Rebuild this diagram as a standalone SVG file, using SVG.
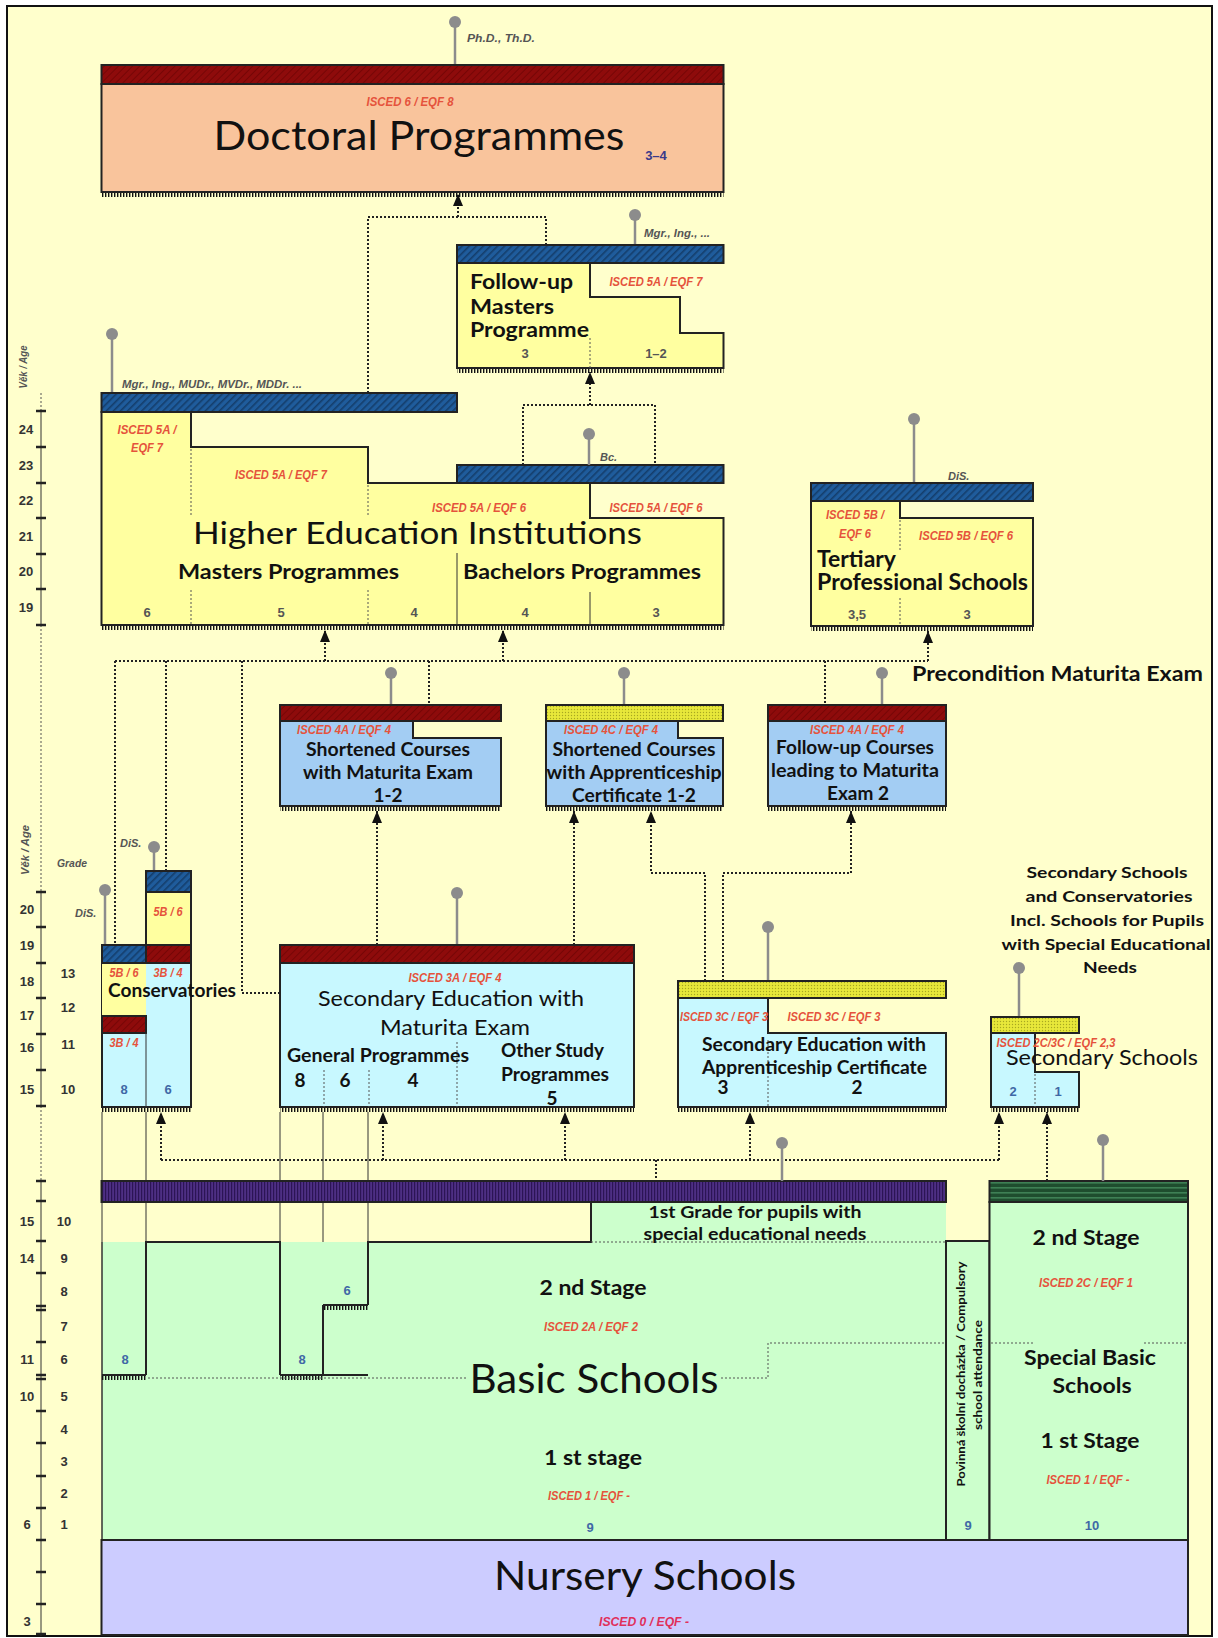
<svg xmlns="http://www.w3.org/2000/svg" width="1218" height="1638" viewBox="0 0 1218 1638">
<defs>
<pattern id="pBlue" width="5" height="5" patternUnits="userSpaceOnUse" patternTransform="rotate(45)"><rect width="5" height="5" fill="#1F5C9C"/><rect width="1.6" height="5" fill="#143E6C"/></pattern>
<pattern id="pRed" width="5" height="5" patternUnits="userSpaceOnUse" patternTransform="rotate(45)"><rect width="5" height="5" fill="#8E0B0B"/><rect width="1" height="5" fill="#760606"/></pattern>
<pattern id="pYel" width="3" height="3" patternUnits="userSpaceOnUse"><rect width="3" height="3" fill="#E8E83A"/><circle cx="1.5" cy="1.5" r="0.7" fill="#A8A820"/></pattern>
<pattern id="pPurp" width="3" height="4" patternUnits="userSpaceOnUse"><rect width="3" height="4" fill="#4E2F84"/><rect width="1.2" height="4" fill="#2C1455"/></pattern>
<pattern id="pGreen" width="4" height="5" patternUnits="userSpaceOnUse"><rect width="4" height="5" fill="#1E4D2E"/><rect y="2" width="4" height="1.6" fill="#3E8055"/></pattern>
<pattern id="pComb" width="3" height="5" patternUnits="userSpaceOnUse"><rect width="1.4" height="5" fill="#111"/></pattern>
<marker id="ar" viewBox="0 0 12 10" refX="12" refY="5" markerWidth="12" markerHeight="10" markerUnits="userSpaceOnUse" orient="auto"><path d="M0,0 L12,5 L0,10 z" fill="#111"/></marker>
<style>
.t{font-family:Lato,"Open Sans","Liberation Sans",sans-serif;fill:#111}
.b{font-weight:bold}
.c{text-anchor:middle}
.isc{font-family:"Liberation Sans Narrow","Liberation Sans",Arial,sans-serif;font-style:italic;font-weight:bold;font-size:12px;fill:#E5533C;text-anchor:middle}
.num{font-family:"Liberation Sans Narrow","Liberation Sans",Arial,sans-serif;font-weight:bold;font-size:13px;fill:#555;text-anchor:middle}
.bn{fill:#3F68A6}
.deg{font-family:"Liberation Sans Narrow","Liberation Sans",Arial,sans-serif;font-style:italic;font-weight:bold;font-size:11px;fill:#555}
.ax{font-family:"Liberation Sans Narrow","Liberation Sans",Arial,sans-serif;font-weight:bold;font-size:13px;fill:#333;text-anchor:middle}
.box{stroke:#222;stroke-width:2}
.thin{stroke:#333;stroke-width:1;fill:none}
.dot{stroke:#222;stroke-width:2;stroke-dasharray:2 2;fill:none}
.dv{stroke:#555;stroke-width:1;stroke-dasharray:2 2;fill:none}
.pin line{stroke:#8C8C8C;stroke-width:2.5}
.pin circle{fill:#8C8C8C}
.tick{stroke:#222;stroke-width:2.5}
</style>
</defs>
<rect x="7" y="6" width="1205" height="1630" fill="#FFFFCC" stroke="#111" stroke-width="2"/>

<g id="age-axis">
<line x1="41" y1="393" x2="41" y2="411" class="dv"/>
<line x1="41" y1="411" x2="41" y2="625" class="thin"/>
<line x1="41" y1="625" x2="41" y2="892" class="dv"/>
<line x1="41" y1="892" x2="41" y2="1106" class="thin"/>
<line x1="41" y1="1106" x2="41" y2="1181" class="dv"/>
<line x1="41" y1="1181" x2="41" y2="1636" class="thin"/>
<g class="tick">
<path d="M36 411h10M36 447h10M36 483h10M36 518h10M36 554h10M36 589h10M36 625h10"/>
<path d="M36 892h10M36 927h10M36 963h10M36 998h10M36 1034h10M36 1070h10M36 1106h10"/>
<path d="M36 1181h10M36 1201h10M36 1241h10M36 1273h10M36 1306h10M36 1310h10M36 1342h10M36 1375h10M36 1379h10M36 1411h10M36 1443h10M36 1476h10M36 1508h10M36 1540h10M36 1572h10M36 1604h10M36 1634h10"/>
</g>
<text class="ax" x="26" y="434">24</text><text class="ax" x="26" y="470">23</text><text class="ax" x="26" y="505">22</text><text class="ax" x="26" y="541">21</text><text class="ax" x="26" y="576">20</text><text class="ax" x="26" y="612">19</text>
<text class="ax" x="27" y="914">20</text><text class="ax" x="27" y="950">19</text><text class="ax" x="27" y="986">18</text><text class="ax" x="27" y="1020">17</text><text class="ax" x="27" y="1052">16</text><text class="ax" x="27" y="1094">15</text>
<text class="ax" x="68" y="978">13</text><text class="ax" x="68" y="1012">12</text><text class="ax" x="68" y="1049">11</text><text class="ax" x="68" y="1094">10</text>
<text class="ax" x="27" y="1226">15</text><text class="ax" x="27" y="1263">14</text><text class="ax" x="27" y="1364">11</text><text class="ax" x="27" y="1401">10</text><text class="ax" x="27" y="1529">6</text><text class="ax" x="27" y="1626">3</text>
<text class="ax" x="64" y="1226">10</text><text class="ax" x="64" y="1263">9</text><text class="ax" x="64" y="1296">8</text><text class="ax" x="64" y="1331">7</text><text class="ax" x="64" y="1364">6</text><text class="ax" x="64" y="1401">5</text><text class="ax" x="64" y="1434">4</text><text class="ax" x="64" y="1466">3</text><text class="ax" x="64" y="1498">2</text><text class="ax" x="64" y="1529">1</text>
<text class="deg" transform="translate(27 367) rotate(-90)" text-anchor="middle" textLength="43" lengthAdjust="spacingAndGlyphs">Věk / Age</text>
<text class="deg" transform="translate(29 850) rotate(-90)" text-anchor="middle" textLength="50" lengthAdjust="spacingAndGlyphs">Věk / Age</text>
<text class="deg" x="57" y="867" textLength="30" lengthAdjust="spacingAndGlyphs">Grade</text>
</g>

<g id="connectors">
<polyline class="dot" points="368,393 368,217 546,217 546,245"/>
<line class="dot" x1="458" y1="217" x2="458" y2="194" marker-end="url(#ar)"/>
<line class="dot" x1="590" y1="405" x2="590" y2="372" marker-end="url(#ar)"/>
<polyline class="dot" points="523,465 523,405 655,405 655,465"/>
<line class="dot" x1="115" y1="661" x2="928" y2="661"/>
<line class="dot" x1="325" y1="661" x2="325" y2="630" marker-end="url(#ar)"/>
<line class="dot" x1="503" y1="661" x2="503" y2="630" marker-end="url(#ar)"/>
<line class="dot" x1="928" y1="661" x2="928" y2="631" marker-end="url(#ar)"/>
<line class="dot" x1="115" y1="661" x2="115" y2="945"/>
<line class="dot" x1="166" y1="661" x2="166" y2="871"/>
<polyline class="dot" points="242,661 242,993 279,993"/>
<line class="dot" x1="429" y1="661" x2="429" y2="705"/>
<line class="dot" x1="825" y1="661" x2="825" y2="705"/>
<line class="dot" x1="377" y1="945" x2="377" y2="811" marker-end="url(#ar)"/>
<line class="dot" x1="574" y1="945" x2="574" y2="811" marker-end="url(#ar)"/>
<polyline class="dot" points="705,981 705,873 651,873 651,811" marker-end="url(#ar)"/>
<polyline class="dot" points="723,981 723,873 851,873 851,811" marker-end="url(#ar)"/>
<line class="dot" x1="161" y1="1160" x2="999" y2="1160"/>
<line class="dot" x1="161" y1="1160" x2="161" y2="1112" marker-end="url(#ar)"/>
<line class="dot" x1="383" y1="1160" x2="383" y2="1112" marker-end="url(#ar)"/>
<line class="dot" x1="565" y1="1160" x2="565" y2="1112" marker-end="url(#ar)"/>
<line class="dot" x1="750" y1="1160" x2="750" y2="1112" marker-end="url(#ar)"/>
<line class="dot" x1="999" y1="1160" x2="999" y2="1112" marker-end="url(#ar)"/>
<line class="dot" x1="656" y1="1160" x2="656" y2="1181"/>
<line class="dot" x1="1047" y1="1181" x2="1047" y2="1112" marker-end="url(#ar)"/>
<line class="dot" x1="117" y1="1443" x2="117" y2="1381" marker-end="url(#ar)"/>
<line class="dot" x1="291" y1="1448" x2="291" y2="1381" marker-end="url(#ar)"/>
<line class="dot" x1="339" y1="1375" x2="339" y2="1311" marker-end="url(#ar)"/>
<g class="thin"><path d="M102 1112V1242M146 1112V1242M280 1112V1242M323 1112V1305M368 1112V1242"/></g>
</g>

<g id="doctoral">
<g class="pin"><line x1="455" y1="22" x2="455" y2="65"/><circle cx="455" cy="22" r="6"/></g>
<text class="deg" x="467" y="42" textLength="68" lengthAdjust="spacingAndGlyphs">Ph.D., Th.D.</text>
<rect x="101.5" y="84" width="622" height="108" fill="#F9C49C" class="box"/>
<rect x="101.5" y="65" width="622" height="19" fill="url(#pRed)" class="box"/>
<rect x="101.5" y="193" width="622" height="4" fill="url(#pComb)"/>
<text class="isc" x="410" y="106" textLength="87" lengthAdjust="spacingAndGlyphs">ISCED 6 / EQF 8</text>
<text class="t c" x="419" y="150" font-size="40" textLength="411" lengthAdjust="spacingAndGlyphs">Doctoral Programmes</text>
<text class="num" x="656" y="160" font-size="11" style="fill:#3A3A8A">3–4</text>
</g>

<g id="followup-masters">
<g class="pin"><line x1="635" y1="215" x2="635" y2="245"/><circle cx="635" cy="215" r="6"/></g>
<text class="deg" x="644" y="237" textLength="66" lengthAdjust="spacingAndGlyphs">Mgr., Ing., ...</text>
<polygon points="457,263 590,263 590,297 680,297 680,333 723.5,333 723.5,368 457,368" fill="#FFFFA0" class="box"/>
<rect x="457" y="245" width="266.5" height="18" fill="url(#pBlue)" class="box"/>
<rect x="457" y="369" width="266.5" height="4" fill="url(#pComb)"/>
<line class="dv" x1="590" y1="338" x2="590" y2="368"/>
<text class="isc" x="656" y="286" textLength="93" lengthAdjust="spacingAndGlyphs">ISCED 5A / EQF 7</text>
<text class="t b" x="470" y="289" font-size="21" textLength="103" lengthAdjust="spacingAndGlyphs">Follow-up</text>
<text class="t b" x="470" y="314" font-size="21" textLength="84" lengthAdjust="spacingAndGlyphs">Masters</text>
<text class="t b" x="470" y="337" font-size="21" textLength="119" lengthAdjust="spacingAndGlyphs">Programme</text>
<text class="num" x="525" y="358">3</text><text class="num" x="656" y="358">1–2</text>
</g>

<g id="higher-education">
<g class="pin"><line x1="112" y1="334" x2="112" y2="393"/><circle cx="112" cy="334" r="6"/></g>
<text class="deg" x="122" y="388" textLength="180" lengthAdjust="spacingAndGlyphs">Mgr., Ing., MUDr., MVDr., MDDr. ...</text>
<polygon points="101.5,412 191,412 191,447 368,447 368,483 590,483 590,518 723.5,518 723.5,625 101.5,625" fill="#FFFFA0" class="box"/>
<rect x="101.5" y="393" width="355.5" height="19" fill="url(#pBlue)" class="box"/>
<rect x="457" y="465" width="266.5" height="18" fill="url(#pBlue)" class="box"/>
<g class="pin"><line x1="589" y1="434" x2="589" y2="465"/><circle cx="589" cy="434" r="6"/></g>
<text class="deg" x="600" y="461">Bc.</text>
<rect x="101.5" y="626" width="622" height="4" fill="url(#pComb)"/>
<path class="dv" d="M191 449V517M191 590V625M368 485V517M368 590V625"/>
<path class="thin" d="M457 553V625M590 592V625"/>
<text class="isc" x="147" y="434" textLength="59" lengthAdjust="spacingAndGlyphs">ISCED 5A /</text>
<text class="isc" x="147" y="452" textLength="32" lengthAdjust="spacingAndGlyphs">EQF 7</text>
<text class="isc" x="281" y="479" textLength="92" lengthAdjust="spacingAndGlyphs">ISCED 5A / EQF 7</text>
<text class="isc" x="479" y="512" textLength="94" lengthAdjust="spacingAndGlyphs">ISCED 5A / EQF 6</text>
<text class="isc" x="656" y="512" textLength="93" lengthAdjust="spacingAndGlyphs">ISCED 5A / EQF 6</text>
<text class="t" x="193" y="544" font-size="30" textLength="449" lengthAdjust="spacingAndGlyphs">Higher Education Institutions</text>
<text class="t b" x="178" y="579" font-size="21" textLength="221" lengthAdjust="spacingAndGlyphs">Masters Programmes</text>
<text class="t b" x="463" y="579" font-size="21" textLength="238" lengthAdjust="spacingAndGlyphs">Bachelors Programmes</text>
<text class="num" x="147" y="617">6</text><text class="num" x="281" y="617">5</text><text class="num" x="414" y="617">4</text><text class="num" x="525" y="617">4</text><text class="num" x="656" y="617">3</text>
</g>

<g id="tertiary">
<g class="pin"><line x1="914" y1="419" x2="914" y2="483"/><circle cx="914" cy="419" r="6"/></g>
<text class="deg" x="948" y="480">DiS.</text>
<polygon points="811,501 900,501 900,518 1033,518 1033,626 811,626" fill="#FFFFA0" class="box"/>
<rect x="811" y="483" width="222" height="18" fill="url(#pBlue)" class="box"/>
<rect x="811" y="627" width="222" height="4" fill="url(#pComb)"/>
<path class="dv" d="M900 520V550M900 598V626"/>
<text class="isc" x="855" y="519" textLength="58" lengthAdjust="spacingAndGlyphs">ISCED 5B /</text>
<text class="isc" x="855" y="538" textLength="32" lengthAdjust="spacingAndGlyphs">EQF 6</text>
<text class="isc" x="966" y="540" textLength="94" lengthAdjust="spacingAndGlyphs">ISCED 5B / EQF 6</text>
<text class="t b" x="817" y="567" font-size="23" textLength="79" lengthAdjust="spacingAndGlyphs">Tertiary</text>
<text class="t b" x="817" y="590" font-size="23" textLength="211" lengthAdjust="spacingAndGlyphs">Professional Schools</text>
<text class="num" x="857" y="619">3,5</text><text class="num" x="967" y="619">3</text>
</g>

<text id="precondition" class="t b" x="912" y="681" font-size="21" textLength="291" lengthAdjust="spacingAndGlyphs">Precondition Maturita Exam</text>

<g id="shortened-maturita">
<g class="pin"><line x1="391" y1="673" x2="391" y2="705"/><circle cx="391" cy="673" r="6"/></g>
<polygon points="280,721 413,721 413,738 501,738 501,806 280,806" fill="#A3CDF3" class="box"/>
<rect x="280" y="705" width="221" height="16" fill="url(#pRed)" class="box"/>
<rect x="280" y="807" width="221" height="4" fill="url(#pComb)"/>
<text class="isc" x="344" y="734" textLength="94" lengthAdjust="spacingAndGlyphs">ISCED 4A / EQF 4</text>
<text class="t b c" x="388" y="756" font-size="19" textLength="164" lengthAdjust="spacingAndGlyphs">Shortened Courses</text>
<text class="t b c" x="388" y="779" font-size="19" textLength="170" lengthAdjust="spacingAndGlyphs">with Maturita Exam</text>
<text class="t b c" x="388" y="802" font-size="19">1-2</text>
</g>

<g id="shortened-apprenticeship">
<g class="pin"><line x1="624" y1="673" x2="624" y2="705"/><circle cx="624" cy="673" r="6"/></g>
<polygon points="546,721 678,721 678,738 723,738 723,806 546,806" fill="#A3CDF3" class="box"/>
<rect x="546" y="705" width="177" height="16" fill="url(#pYel)" class="box"/>
<rect x="546" y="807" width="177" height="4" fill="url(#pComb)"/>
<text class="isc" x="611" y="734" textLength="94" lengthAdjust="spacingAndGlyphs">ISCED 4C / EQF 4</text>
<text class="t b c" x="634" y="756" font-size="19" textLength="163" lengthAdjust="spacingAndGlyphs">Shortened Courses</text>
<text class="t b c" x="634" y="779" font-size="19" textLength="175" lengthAdjust="spacingAndGlyphs">with Apprenticeship</text>
<text class="t b c" x="634" y="802" font-size="19" textLength="124" lengthAdjust="spacingAndGlyphs">Certificate 1-2</text>
</g>

<g id="followup-courses">
<g class="pin"><line x1="882" y1="673" x2="882" y2="705"/><circle cx="882" cy="673" r="6"/></g>
<rect x="768" y="721" width="178" height="85" fill="#A3CDF3" class="box"/>
<rect x="768" y="705" width="178" height="16" fill="url(#pRed)" class="box"/>
<rect x="768" y="807" width="178" height="4" fill="url(#pComb)"/>
<text class="isc" x="857" y="734" textLength="94" lengthAdjust="spacingAndGlyphs">ISCED 4A / EQF 4</text>
<text class="t b c" x="855" y="754" font-size="19" textLength="158" lengthAdjust="spacingAndGlyphs">Follow-up Courses</text>
<text class="t b c" x="855" y="777" font-size="19" textLength="168" lengthAdjust="spacingAndGlyphs">leading to Maturita</text>
<text class="t b c" x="858" y="800" font-size="19" textLength="62" lengthAdjust="spacingAndGlyphs">Exam 2</text>
</g>

<g id="conservatories">
<g class="pin"><line x1="105" y1="890" x2="105" y2="945"/><circle cx="105" cy="890" r="6"/></g>
<g class="pin"><line x1="154" y1="847" x2="154" y2="871"/><circle cx="154" cy="847" r="6"/></g>
<text class="deg" x="75" y="917">DiS.</text>
<text class="deg" x="120" y="847">DiS.</text>
<rect x="102" y="963" width="89" height="144" fill="#C8F8FF" class="box"/>
<rect x="102" y="963" width="44" height="53" fill="#FFFFA0"/>
<rect x="102" y="1016" width="44" height="17" fill="url(#pRed)" class="box"/>
<rect x="146" y="892" width="45" height="53" fill="#FFFFA0" class="box"/>
<rect x="146" y="871" width="45" height="21" fill="url(#pBlue)" class="box"/>
<rect x="146" y="945" width="45" height="18" fill="url(#pRed)" class="box"/>
<rect x="102" y="945" width="44" height="18" fill="url(#pBlue)" class="box"/>
<line class="thin" x1="146" y1="1033" x2="146" y2="1107"/>
<rect x="102" y="1108" width="89" height="4" fill="url(#pComb)"/>
<text class="isc" x="124" y="977" textLength="29" lengthAdjust="spacingAndGlyphs">5B / 6</text>
<text class="isc" x="168" y="977" textLength="29" lengthAdjust="spacingAndGlyphs">3B / 4</text>
<text class="isc" x="168" y="916" textLength="29" lengthAdjust="spacingAndGlyphs">5B / 6</text>
<text class="isc" x="124" y="1047" textLength="29" lengthAdjust="spacingAndGlyphs">3B / 4</text>
<text class="num bn" x="124" y="1094">8</text><text class="num bn" x="168" y="1094">6</text>
<text class="t b" x="108" y="997" font-size="19" textLength="128" lengthAdjust="spacingAndGlyphs">Conservatories</text>
</g>

<g id="secondary-maturita">
<g class="pin"><line x1="457" y1="893" x2="457" y2="945"/><circle cx="457" cy="893" r="6"/></g>
<rect x="280" y="963" width="354" height="144" fill="#C8F8FF" class="box"/>
<rect x="280" y="945" width="354" height="18" fill="url(#pRed)" class="box"/>
<rect x="280" y="1108" width="354" height="4" fill="url(#pComb)"/>
<path class="dv" d="M324 1070V1107M369 1070V1107M457 1042V1107"/>
<text class="isc" x="455" y="982" textLength="93" lengthAdjust="spacingAndGlyphs">ISCED 3A / EQF 4</text>
<text class="t c" x="451" y="1006" font-size="22" textLength="266" lengthAdjust="spacingAndGlyphs">Secondary Education with</text>
<text class="t c" x="455" y="1035" font-size="22" textLength="150" lengthAdjust="spacingAndGlyphs">Maturita Exam</text>
<text class="t b" x="287" y="1062" font-size="18" textLength="182" lengthAdjust="spacingAndGlyphs">General Programmes</text>
<text class="t b" x="501" y="1057" font-size="18" textLength="103" lengthAdjust="spacingAndGlyphs">Other Study</text>
<text class="t b" x="501" y="1081" font-size="18" textLength="108" lengthAdjust="spacingAndGlyphs">Programmes</text>
<text class="t b c" x="300" y="1087" font-size="19">8</text><text class="t b c" x="345" y="1087" font-size="19">6</text><text class="t b c" x="413" y="1087" font-size="19">4</text><text class="t b c" x="552" y="1105" font-size="19">5</text>
</g>

<g id="secondary-apprenticeship">
<g class="pin"><line x1="768" y1="927" x2="768" y2="981"/><circle cx="768" cy="927" r="6"/></g>
<polygon points="678,998 768,998 768,1033 946,1033 946,1107 678,1107" fill="#C8F8FF" class="box"/>
<rect x="678" y="981" width="268" height="17" fill="url(#pYel)" class="box"/>
<rect x="678" y="1108" width="268" height="4" fill="url(#pComb)"/>
<line class="dv" x1="768" y1="1040" x2="768" y2="1107"/>
<text class="isc" x="724" y="1021" textLength="88" lengthAdjust="spacingAndGlyphs">ISCED 3C / EQF 3</text>
<text class="isc" x="834" y="1021" textLength="93" lengthAdjust="spacingAndGlyphs">ISCED 3C / EQF 3</text>
<text class="t b" x="702" y="1051" font-size="19" textLength="224" lengthAdjust="spacingAndGlyphs">Secondary Education with</text>
<text class="t b" x="702" y="1074" font-size="19" textLength="225" lengthAdjust="spacingAndGlyphs">Apprenticeship Certificate</text>
<text class="t b c" x="723" y="1094" font-size="19">3</text><text class="t b c" x="857" y="1094" font-size="19">2</text>
</g>

<g id="secondary-schools">
<text class="t b c" x="1107" y="878" font-size="16" textLength="161" lengthAdjust="spacingAndGlyphs">Secondary Schools</text>
<text class="t b c" x="1109" y="902" font-size="16" textLength="167" lengthAdjust="spacingAndGlyphs">and Conservatories</text>
<text class="t b c" x="1107" y="926" font-size="16" textLength="194" lengthAdjust="spacingAndGlyphs">Incl. Schools for Pupils</text>
<text class="t b c" x="1106" y="950" font-size="16" textLength="209" lengthAdjust="spacingAndGlyphs">with Special Educational</text>
<text class="t b c" x="1110" y="973" font-size="16" textLength="54" lengthAdjust="spacingAndGlyphs">Needs</text>
<g class="pin"><line x1="1019" y1="968" x2="1019" y2="1017"/><circle cx="1019" cy="968" r="6"/></g>
<polygon points="991,1033 1035,1033 1035,1072 1079,1072 1079,1107 991,1107" fill="#C8F8FF" class="box"/>
<rect x="991" y="1017" width="88" height="16" fill="url(#pYel)" class="box"/>
<rect x="991" y="1108" width="88" height="4" fill="url(#pComb)"/>
<line class="dv" x1="1035" y1="1074" x2="1035" y2="1107"/>
<text class="isc" x="1056" y="1047" textLength="119" lengthAdjust="spacingAndGlyphs">ISCED 2C/3C / EQF 2,3</text>
<text class="t" x="1006" y="1065" font-size="21" textLength="192" lengthAdjust="spacingAndGlyphs">Secondary Schools</text>
<text class="num bn" x="1013" y="1096">2</text><text class="num bn" x="1058" y="1096">1</text>
</g>

<g id="basic-schools">
<polygon points="102,1242 591,1242 591,1202 946,1202 946,1540 102,1540" fill="#CCFFCC"/>
<line x1="102" y1="1242" x2="102" y2="1540" stroke="#333" stroke-width="1.5"/>
<path d="M146 1375V1242H280V1375M323 1375V1305M368 1305V1242H591V1202" fill="none" class="box"/>
<path d="M102 1375H146M280 1375H368M323 1305H368" fill="none" class="box"/>
<rect x="102" y="1376" width="44" height="4" fill="url(#pComb)"/>
<rect x="280" y="1376" width="43" height="4" fill="url(#pComb)"/>
<rect x="323" y="1306" width="45" height="4" fill="url(#pComb)"/>
<path class="dv" d="M148 1378H468M721 1378H768V1343H946M591 1242H946"/>
<rect x="101.5" y="1181" width="844.5" height="21" fill="url(#pPurp)" class="box"/>
<g class="pin"><line x1="782" y1="1143" x2="782" y2="1181"/><circle cx="782" cy="1143" r="6"/></g>
<text class="num bn" x="125" y="1364">8</text><text class="num bn" x="302" y="1364">8</text><text class="num bn" x="347" y="1295">6</text>
<text class="t b c" x="755" y="1218" font-size="17" textLength="213" lengthAdjust="spacingAndGlyphs">1st Grade for pupils with</text>
<text class="t b c" x="755" y="1240" font-size="17" textLength="223" lengthAdjust="spacingAndGlyphs">special educational needs</text>
<text class="t b c" x="593" y="1295" font-size="21" textLength="107" lengthAdjust="spacingAndGlyphs">2 nd Stage</text>
<text class="isc" x="591" y="1331" textLength="94" lengthAdjust="spacingAndGlyphs">ISCED 2A / EQF 2</text>
<text class="t c" x="594" y="1393" font-size="40" textLength="249" lengthAdjust="spacingAndGlyphs">Basic Schools</text>
<text class="t b c" x="593" y="1465" font-size="21" textLength="98" lengthAdjust="spacingAndGlyphs">1 st stage</text>
<text class="isc" x="589" y="1500" textLength="82" lengthAdjust="spacingAndGlyphs">ISCED 1 / EQF -</text>
<text class="num bn" x="590" y="1532">9</text>
</g>

<g id="compulsory">
<rect x="946" y="1241" width="43.5" height="299" fill="#CCFFCC" class="box"/>
<text class="t b c" font-size="12" transform="translate(965 1374) rotate(-90)" textLength="225" lengthAdjust="spacingAndGlyphs">Povinná školní docházka / Compulsory</text>
<text class="t b c" font-size="12" transform="translate(982 1375) rotate(-90)" textLength="110" lengthAdjust="spacingAndGlyphs">school attendance</text>
<text class="num bn" x="968" y="1530">9</text>
</g>

<g id="special-basic">
<rect x="989.5" y="1202" width="198.5" height="338" fill="#CCFFCC" class="box"/>
<rect x="989.5" y="1181" width="198.5" height="21" fill="url(#pGreen)" class="box"/>
<g class="pin"><line x1="1103" y1="1140" x2="1103" y2="1181"/><circle cx="1103" cy="1140" r="6"/></g>
<path class="dv" d="M991 1343H1035M1144 1343H1188"/>
<text class="t b c" x="1086" y="1245" font-size="21" textLength="107" lengthAdjust="spacingAndGlyphs">2 nd Stage</text>
<text class="isc" x="1086" y="1287" textLength="94" lengthAdjust="spacingAndGlyphs">ISCED 2C / EQF 1</text>
<text class="t b c" x="1090" y="1365" font-size="21" textLength="132" lengthAdjust="spacingAndGlyphs">Special Basic</text>
<text class="t b c" x="1092" y="1393" font-size="21" textLength="79" lengthAdjust="spacingAndGlyphs">Schools</text>
<text class="t b c" x="1090" y="1448" font-size="21" textLength="99" lengthAdjust="spacingAndGlyphs">1 st Stage</text>
<text class="isc" x="1088" y="1484" textLength="83" lengthAdjust="spacingAndGlyphs">ISCED 1 / EQF -</text>
<text class="num bn" x="1092" y="1530">10</text>
</g>

<g id="nursery">
<rect x="101.5" y="1540" width="1086.5" height="95" fill="#CCCCFF" class="box"/>
<text class="t c" x="645" y="1590" font-size="40" textLength="302" lengthAdjust="spacingAndGlyphs">Nursery Schools</text>
<text class="isc" x="644" y="1626" textLength="90" lengthAdjust="spacingAndGlyphs" style="fill:#E0305A">ISCED 0 / EQF -</text>
</g>
</svg>
